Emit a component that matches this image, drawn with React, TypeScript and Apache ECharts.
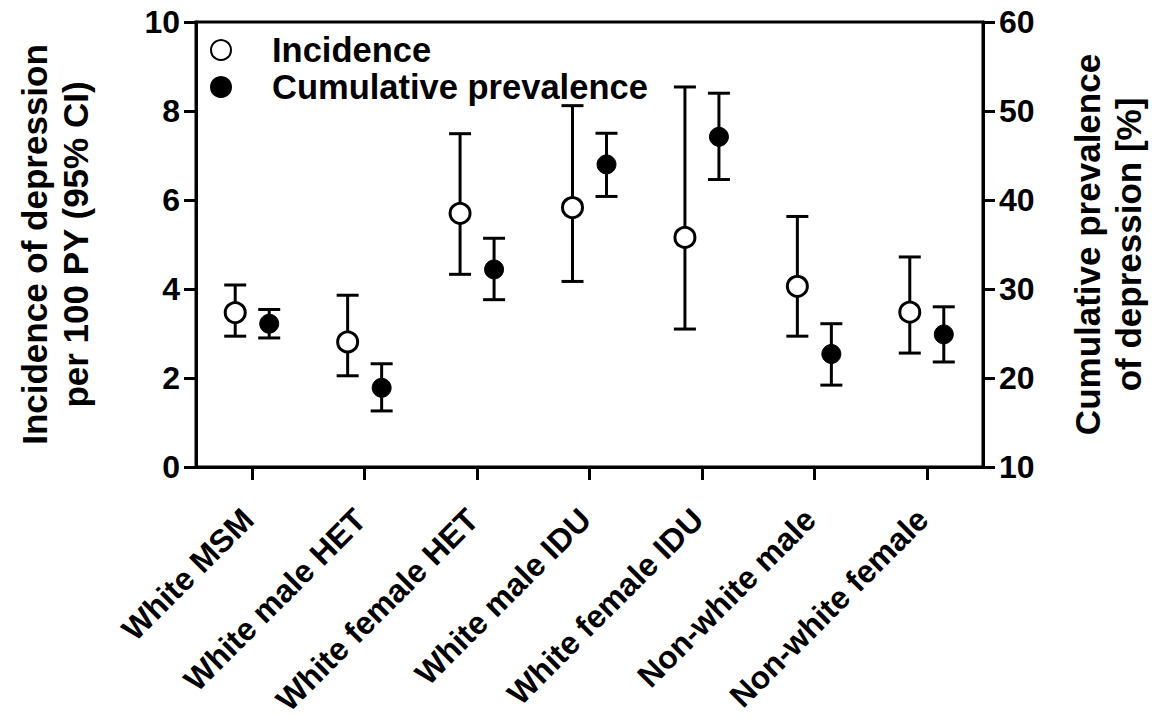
import React, { useEffect, useRef } from "react";
import * as echarts from "echarts";

const categories = [
  "White MSM",
  "White male HET",
  "White female HET",
  "White male IDU",
  "White female IDU",
  "Non-white male",
  "Non-white female",
];
const incidence = [3.47, 2.81, 5.7, 5.83, 5.16, 4.06, 3.48];
const incidenceLow = [2.94, 2.05, 4.33, 4.17, 3.1, 2.94, 2.56];
const incidenceHigh = [4.09, 3.86, 7.49, 8.12, 8.54, 5.63, 4.72];
const prevalence = [26.1, 18.9, 32.2, 44.0, 47.1, 22.7, 24.9];
const prevalenceLow = [24.5, 16.3, 28.8, 40.4, 42.3, 19.2, 21.8];
const prevalenceHigh = [27.7, 21.6, 35.7, 47.5, 52.0, 26.1, 28.0];
const leftTicks = { min: 0, max: 10, interval: 2 };
const rightTicks = { min: 10, max: 60, interval: 10 };

const FONT = "Liberation Sans, Arial, sans-serif";
const OFFSET = 17;

function errorBarSeries(name: string, low: number[], high: number[], yAxisIndex: number, dx: number) {
  return {
    type: "custom",
    name: name + " CI",
    yAxisIndex,
    z: 2,
    silent: true,
    data: low.map((l, i) => [i, l, high[i]]),
    renderItem: (params: any, api: any) => {
      const idx = api.value(0);
      const lo = api.coord([idx, api.value(1)]);
      const hi = api.coord([idx, api.value(2)]);
      const x = lo[0] + dx;
      const cap = 11;
      const style = { stroke: "#000", lineWidth: 3 };
      return {
        type: "group",
        children: [
          { type: "line", shape: { x1: x, y1: lo[1], x2: x, y2: hi[1] }, style },
          { type: "line", shape: { x1: x - cap, y1: lo[1], x2: x + cap, y2: lo[1] }, style },
          { type: "line", shape: { x1: x - cap, y1: hi[1], x2: x + cap, y2: hi[1] }, style },
        ],
      };
    },
  };
}

export default function App() {
  const ref = useRef<HTMLDivElement>(null);
  useEffect(() => {
    if (!ref.current) return;
    const chart = echarts.init(ref.current, undefined, { renderer: "svg" });
    const axisLine = { show: true, lineStyle: { color: "#000", width: 3 } };
    const nameStyle = {
      fontFamily: FONT,
      fontWeight: "bold",
      fontSize: 35,
      color: "#000",
      lineHeight: 41,
    };
    chart.setOption({
      animation: false,
      backgroundColor: "#fff",
      textStyle: { fontFamily: FONT },
      grid: {
        left: 196,
        right: 180,
        top: 22,
        bottom: 250,
        containLabel: false,
        outerBoundsMode: "none",
        show: true,
        borderColor: "#000",
        borderWidth: 3,
        backgroundColor: "transparent",
      },
      legend: {
        orient: "vertical",
        left: 205,
        top: 27,
        itemWidth: 20,
        itemHeight: 20,
        itemGap: 1,
        data: ["Incidence", "Cumulative prevalence"],
        textStyle: {
          fontFamily: FONT,
          fontWeight: "bold",
          fontSize: 34.5,
          lineHeight: 36,
          color: "#000",
          padding: [0, 0, 0, 36],
        },
      },
      xAxis: {
        type: "category",
        data: categories,
        boundaryGap: true,
        axisLine,
        axisTick: { show: true, alignWithLabel: true, length: 13, lineStyle: { color: "#000", width: 3 } },
        axisLabel: {
          rotate: 45,
          margin: 43,
          interval: 0,
          color: "#000",
          fontFamily: FONT,
          fontWeight: "bold",
          fontSize: 32,
          padding: [0, 6, 0, 0],
        },
        splitLine: { show: false },
      },
      yAxis: [
        {
          type: "value",
          position: "left",
          ...leftTicks,
          name: "Incidence of depression\nper 100 PY (95% CI)",
          nameLocation: "middle",
          nameRotate: 90,
          nameGap: 100,
          nameTextStyle: nameStyle,
          axisLine,
          axisTick: { show: true, length: 12, lineStyle: { color: "#000", width: 3 } },
          axisLabel: { color: "#000", fontFamily: FONT, fontWeight: "bold", fontSize: 32, margin: 16 },
          splitLine: { show: false },
        },
        {
          type: "value",
          position: "right",
          ...rightTicks,
          name: "Cumulative prevalence\nof depression [%]",
          nameLocation: "middle",
          nameRotate: 90,
          nameGap: 84,
          nameTextStyle: nameStyle,
          axisLine,
          axisTick: { show: true, length: 12, lineStyle: { color: "#000", width: 3 } },
          axisLabel: { color: "#000", fontFamily: FONT, fontWeight: "bold", fontSize: 32, margin: 16 },
          splitLine: { show: false },
        },
      ],
      series: [
        errorBarSeries("Incidence", incidenceLow, incidenceHigh, 0, -OFFSET),
        errorBarSeries("Cumulative prevalence", prevalenceLow, prevalenceHigh, 1, OFFSET),
        {
          type: "scatter",
          name: "Incidence",
          yAxisIndex: 0,
          z: 5,
          symbol: "circle",
          symbolSize: 20,
          symbolOffset: [-OFFSET, 0],
          itemStyle: { color: "#fff", borderColor: "#000", borderWidth: 3, opacity: 1 },
          data: incidence,
        },
        {
          type: "scatter",
          name: "Cumulative prevalence",
          yAxisIndex: 1,
          z: 5,
          symbol: "circle",
          symbolSize: 19,
          symbolOffset: [OFFSET, 0],
          itemStyle: { color: "#000", borderColor: "#000", borderWidth: 1, opacity: 1 },
          data: prevalence,
        },
      ],
    });
    return () => chart.dispose();
  }, []);
  return (
    <div
      ref={ref}
      style={{ width: 1163, height: 717, position: "absolute", left: 0, top: 0, background: "#fff" }}
    />
  );
}
